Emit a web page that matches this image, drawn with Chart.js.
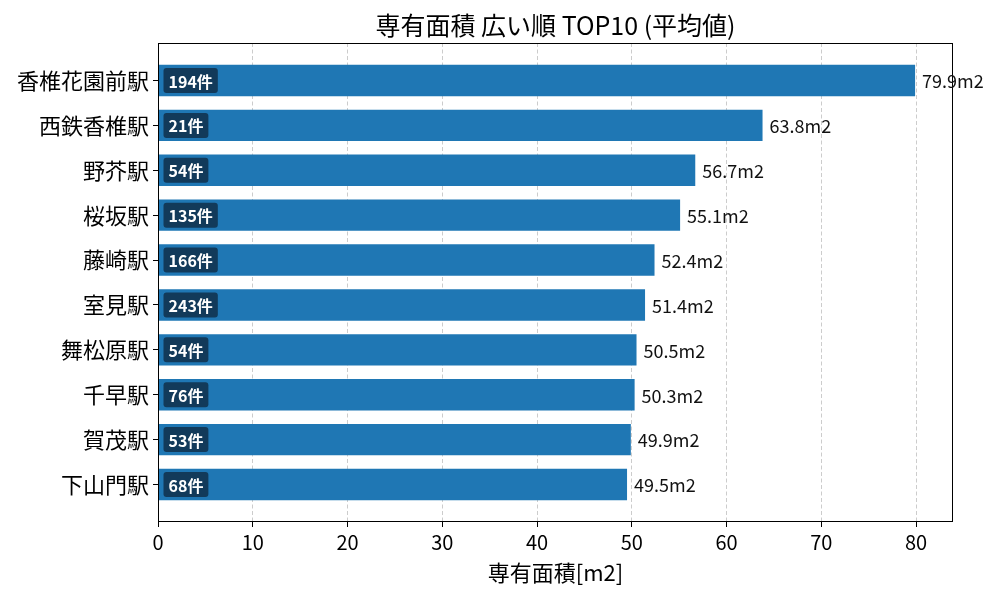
<!DOCTYPE html>
<html>
<head>
<meta charset="utf-8">
<script src="https://cdn.jsdelivr.net/npm/chart.js@4"></script>
<style>
  html, body { margin: 0; padding: 0; background: #fff; }
</style>
</head>
<body>
<canvas id="areaChart" width="1000" height="600"></canvas>
<script>
const stations = ["香椎花園前駅", "西鉄香椎駅", "野芥駅", "桜坂駅", "藤崎駅", "室見駅", "舞松原駅", "千早駅", "賀茂駅", "下山門駅"];
const avgArea = [79.9, 63.8, 56.7, 55.1, 52.4, 51.4, 50.5, 50.3, 49.9, 49.5];
const listingCounts = [194, 21, 54, 135, 166, 243, 54, 76, 53, 68];
const xTicks = [0, 10, 20, 30, 40, 50, 60, 70, 80];
const chartTitle = "専有面積 広い順 TOP10 (平均値)";

const FONT = "'Noto Sans CJK JP', 'Noto Sans', sans-serif";

// frame around the plot + title centred over the plot area (matplotlib style)
const framePlugin = {
  id: "frame",
  afterDatasetsDraw(chart) {
    const { ctx, chartArea: a } = chart;
    ctx.save();
    ctx.strokeStyle = "#000";
    ctx.lineWidth = 1;
    ctx.strokeRect(Math.round(a.left) + 0.5, Math.round(a.top) + 0.5,
      Math.round(a.right - a.left) - 1, Math.round(a.bottom - a.top) - 1);
    ctx.font = `25px ${FONT}`;
    ctx.fillStyle = "#000";
    ctx.textAlign = "center";
    ctx.textBaseline = "middle";
    ctx.fillText(chartTitle, (a.left + a.right) / 2, a.top - 18);
    ctx.restore();
  }
};

// value text at bar end + count badge at bar start
const labelPlugin = {
  id: "barLabels",
  afterDatasetsDraw(chart) {
    const { ctx } = chart;
    const meta = chart.getDatasetMeta(0);
    ctx.save();
    meta.data.forEach((bar, i) => {
      ctx.textBaseline = "middle";
      ctx.textAlign = "left";
      ctx.font = `18px ${FONT}`;
      ctx.fillStyle = "#111";
      ctx.fillText(`${avgArea[i].toFixed(1)}m2`, bar.x + 7, bar.y + 1);

      const txt = `${listingCounts[i]}件`;
      ctx.font = `bold 16px ${FONT}`;
      const w = ctx.measureText(txt).width + 10;
      const h = 25;
      const bx = bar.base + 5;
      const by = bar.y - h / 2;
      ctx.fillStyle = "#123a5a";
      ctx.beginPath();
      ctx.roundRect(bx, by, w, h, 3);
      ctx.fill();
      ctx.fillStyle = "#fff";
      ctx.fillText(txt, bx + 5, bar.y + 1);
    });
    ctx.restore();
  }
};

new Chart(document.getElementById("areaChart"), {
  type: "bar",
  data: {
    datasets: [{
      data: avgArea.map((v, i) => ({ x: v, y: i })),
      backgroundColor: "#1f77b4",
      borderWidth: 0,
      categoryPercentage: 1,
      barPercentage: 0.7,
    }],
  },
  options: {
    indexAxis: "y",
    responsive: false,
    animation: false,
    layout: { padding: { left: 0, right: 47, top: 43, bottom: 0 } },
    scales: {
      x: {
        type: "linear",
        min: 0,
        max: 83.9,
        afterBuildTicks: (s) => { s.ticks = xTicks.map((v) => ({ value: v })); },
        afterFit: (s) => { s.height = 78; },
        ticks: { font: { family: FONT, size: 20 }, color: "#000", padding: 3, maxRotation: 0 },
        grid: {
          color: "#cccccc",
          lineWidth: 1,
          borderDash: [4, 2.5],
          drawTicks: true,
          tickLength: 5,
          tickColor: "#000",
          tickBorderDash: [],
        },
        border: { display: false, dash: [4, 2.5] },
        title: {
          display: true,
          text: "専有面積[m2]",
          font: { family: FONT, size: 22 },
          color: "#000",
          padding: { top: 0, bottom: 14 },
        },
      },
      y: {
        type: "linear",
        reverse: true,
        offset: false,
        min: -0.835,
        max: 9.835,
        afterBuildTicks: (s) => { s.ticks = stations.map((_, i) => ({ value: i })); },
        afterFit: (s) => { s.width = 158; },
        ticks: {
          font: { family: FONT, size: 22 },
          color: "#000",
          padding: 4,
          callback: (v) => stations[v],
        },
        grid: { offset: false, drawOnChartArea: false, drawTicks: true, tickLength: 5, tickColor: "#000" },
        border: { display: false },
      },
    },
    plugins: {
      legend: { display: false },
      tooltip: { enabled: false },
      title: { display: false },
    },
  },
  plugins: [framePlugin, labelPlugin],
});
</script>
</body>
</html>
